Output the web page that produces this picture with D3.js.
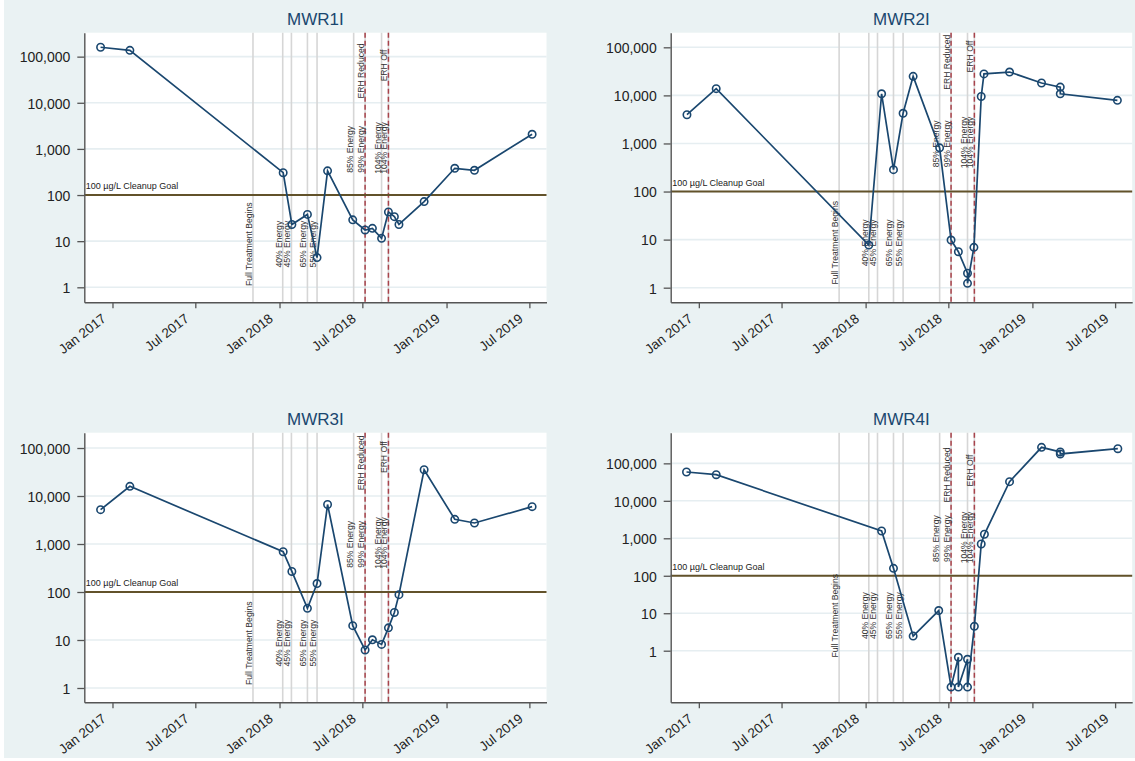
<!DOCTYPE html>
<html><head><meta charset="utf-8">
<script src="https://cdn.jsdelivr.net/npm/d3@7"></script>
<style>html,body{margin:0;padding:0;background:#fff;}svg{display:block;font-family:"Liberation Sans",Arial,Helvetica,sans-serif;}</style>
</head><body>
<svg id="chart" width="1135" height="761"></svg>
<script>
// ---------- DATA ----------
const wellNames = ["MWR1I", "MWR2I", "MWR3I", "MWR4I"];

// sample dates for wells MWR1I and MWR3I (shared)
const datesA = ["2016-12-06","2017-02-08","2018-01-09","2018-01-28","2018-03-03","2018-03-24","2018-04-16","2018-06-10","2018-07-07","2018-07-23","2018-08-12","2018-08-27","2018-09-09","2018-09-19","2018-11-13","2019-01-19","2019-03-03","2019-07-07"];
const valuesMWR1I = [160000, 137000, 305, 23, 38, 4.4, 335, 29, 17.5, 19, 11.5, 43, 34, 23, 72, 380, 344, 2075];
const valuesMWR3I = [5190, 15900, 690, 268, 45.7, 150, 6650, 19.9, 6.2, 10.1, 8.1, 17.9, 37.5, 88, 35300, 3270, 2740, 5990];

const datesMWR2I = ["2016-12-06","2017-02-08","2018-01-08","2018-02-05","2018-03-03","2018-03-24","2018-04-15","2018-06-12","2018-07-07","2018-07-23","2018-08-12","2018-08-12","2018-08-26","2018-09-11","2018-09-17","2018-11-12","2019-01-21","2019-03-03","2019-03-03","2019-07-06"];
const valuesMWR2I = [3960, 13800, 7.7, 10800, 285, 4240, 24900, 810, 9.8, 5.6, 2.0, 1.23, 6.9, 9500, 28000, 30600, 18100, 14900, 10800, 7900];

const datesMWR4I = ["2016-12-05","2017-02-08","2018-02-05","2018-03-03","2018-04-15","2018-06-10","2018-07-07","2018-07-23","2018-07-23","2018-08-12","2018-08-12","2018-08-27","2018-09-11","2018-09-18","2018-11-12","2019-01-21","2019-03-03","2019-03-03","2019-07-07"];
const valuesMWR4I = [58800, 49800, 1565, 158, 2.45, 11.8, 0.107, 0.667, 0.107, 0.59, 0.107, 4.47, 705, 1280, 32400, 268000, 201000, 178000, 246000];

// treatment events (gray vertical lines) and their label heights (µg/L)
const eventDates  = ["2017-11-04","2018-01-08","2018-01-27","2018-03-03","2018-03-24","2018-06-12","2018-07-07","2018-08-12","2018-08-27"];
const eventLabels = ["Full Treatment Begins","40% Energy","45% Energy","65% Energy","55% Energy","85% Energy","99% Energy","104% Energy","104% Energy"];
const eventLabelAt = [8.6, 8.6, 8.6, 8.6, 8.6, 980, 980, 1050, 1050];

// ERH milestones (red dashed lines)
const erhDates  = ["2018-07-07","2018-08-27"];
const erhLabels = ["ERH Reduced","ERH Off"];
const erhLabelAt = [49000, 64500];

const cleanupGoal = 100;
const cleanupLabel = "100 µg/L Cleanup Goal";

const yTickValues = [1, 10, 100, 1000, 10000, 100000];
const xTickDates = ["2017-01-01","2017-07-01","2018-01-01","2018-07-01","2019-01-01","2019-07-01"];

// ---------- LAYOUT ----------
const parse = d3.timeParse("%Y-%m-%d");
const seriesDates = [datesA, datesMWR2I, datesA, datesMWR4I];
const seriesValues = [valuesMWR1I, valuesMWR2I, valuesMWR3I, valuesMWR4I];
const panels = [
  {left: 84.3, right: 546.5, top: 32.7, bottom: 302.3, yLog: [-0.325, 5.519]},
  {left: 670.7, right: 1132.2, top: 32.7, bottom: 302.3, yLog: [-0.304, 5.304]},
  {left: 84.3, right: 546.5, top: 432.7, bottom: 702.3, yLog: [-0.298, 5.319]},
  {left: 670.7, right: 1132.2, top: 432.7, bottom: 702.3, yLog: [-1.377, 5.818]}
];
const xDomain = [new Date(2016, 9, 31, 10), new Date(2019, 7, 7, 10)];

const navy = "#1a476f";
const svg = d3.select("#chart");
svg.append("rect").attr("width", 1135).attr("height", 761).attr("fill", "#eaf2f3");
svg.append("rect").attr("x", 0).attr("y", 0).attr("width", 4).attr("height", 761).attr("fill", "#ffffff");
svg.append("rect").attr("x", 0).attr("y", 758).attr("width", 1135).attr("height", 3).attr("fill", "#ffffff");

panels.forEach((p, i) => {
  const g = svg.append("g");
  const x = d3.scaleTime().domain(xDomain).range([p.left, p.right]);
  const y = d3.scaleLog().domain([Math.pow(10, p.yLog[0]), Math.pow(10, p.yLog[1])]).range([p.bottom, p.top]);

  g.append("rect").attr("x", p.left).attr("y", p.top)
    .attr("width", p.right - p.left).attr("height", p.bottom - p.top).attr("fill", "#ffffff");

  // gridlines
  g.selectAll(".grid").data(yTickValues).enter().append("line")
    .attr("x1", p.left).attr("x2", p.right)
    .attr("y1", d => y(d)).attr("y2", d => y(d))
    .attr("stroke", "#e6eef1").attr("stroke-width", 1.6);

  // event lines
  g.selectAll(".ev").data(eventDates).enter().append("line")
    .attr("x1", d => x(parse(d))).attr("x2", d => x(parse(d)))
    .attr("y1", p.top).attr("y2", p.bottom)
    .attr("stroke", "#d6d6d6").attr("stroke-width", 1.6);
  g.selectAll(".erh").data(erhDates).enter().append("line")
    .attr("x1", d => x(parse(d))).attr("x2", d => x(parse(d)))
    .attr("y1", p.top).attr("y2", p.bottom)
    .attr("stroke", "#a8434b").attr("stroke-width", 1.5).attr("stroke-dasharray", "5,3");

  // cleanup goal
  g.append("line").attr("x1", p.left).attr("x2", p.right)
    .attr("y1", y(cleanupGoal)).attr("y2", y(cleanupGoal))
    .attr("stroke", "#62522a").attr("stroke-width", 2);
  g.append("text").attr("x", p.left + 1.5).attr("y", y(cleanupGoal) - 6)
    .attr("font-size", 9).attr("fill", "#222").text(cleanupLabel);

  // event labels
  eventDates.forEach((d, k) => {
    const lx = x(parse(d)) - 1, ly = y(eventLabelAt[k]);
    g.append("text").attr("x", lx).attr("y", ly)
      .attr("transform", `rotate(-90,${lx},${ly})`)
      .attr("text-anchor", "middle").attr("font-size", 8.6).attr("fill", "#333")
      .text(eventLabels[k]);
  });
  erhDates.forEach((d, k) => {
    const lx = x(parse(d)) - 1, ly = y(erhLabelAt[k]);
    g.append("text").attr("x", lx).attr("y", ly)
      .attr("transform", `rotate(-90,${lx},${ly})`)
      .attr("text-anchor", "middle").attr("font-size", 8.6).attr("fill", "#333")
      .text(erhLabels[k]);
  });

  // series
  const pts = seriesDates[i].map((d, k) => ({date: parse(d), v: seriesValues[i][k]}));
  g.append("path").datum(pts)
    .attr("d", d3.line().x(d => x(d.date)).y(d => y(d.v)))
    .attr("fill", "none").attr("stroke", navy).attr("stroke-width", 1.7);
  g.selectAll(".pt").data(pts).enter().append("circle")
    .attr("cx", d => x(d.date)).attr("cy", d => y(d.v)).attr("r", 3.7)
    .attr("fill", "none").attr("stroke", navy).attr("stroke-width", 1.6);

  // axes
  const ya = g.append("g").attr("transform", `translate(${p.left},0)`)
    .call(d3.axisLeft(y).tickValues(yTickValues).tickFormat(d3.format(",")).tickSize(7).tickPadding(7).tickSizeOuter(0));
  ya.selectAll("text").attr("font-size", 14).attr("fill", "#222").attr("dy", "0.38em")
    .attr("font-family", '"Liberation Sans",Arial,sans-serif');
  const xa = g.append("g").attr("transform", `translate(0,${p.bottom})`)
    .call(d3.axisBottom(x).tickValues(xTickDates.map(parse)).tickFormat(d3.timeFormat("%b %Y")).tickSize(6).tickSizeOuter(0));
  xa.selectAll("text").attr("font-size", 13.5).attr("fill", "#222")
    .attr("font-family", '"Liberation Sans",Arial,sans-serif')
    .attr("x", 0).attr("y", 0).attr("dy", 0)
    .attr("text-anchor", "end").attr("transform", "translate(-6,18) rotate(-38)");
  [ya, xa].forEach(a => {
    a.selectAll("path.domain").attr("stroke", "#555").attr("stroke-width", 1.4);
    a.selectAll(".tick line").attr("stroke", "#555").attr("stroke-width", 1.3);
  });

  // title
  g.append("text").attr("x", (p.left + p.right) / 2).attr("y", p.top - 8)
    .attr("text-anchor", "middle").attr("font-size", 17).attr("fill", navy)
    .text(wellNames[i]);
});
</script>
</body></html>
